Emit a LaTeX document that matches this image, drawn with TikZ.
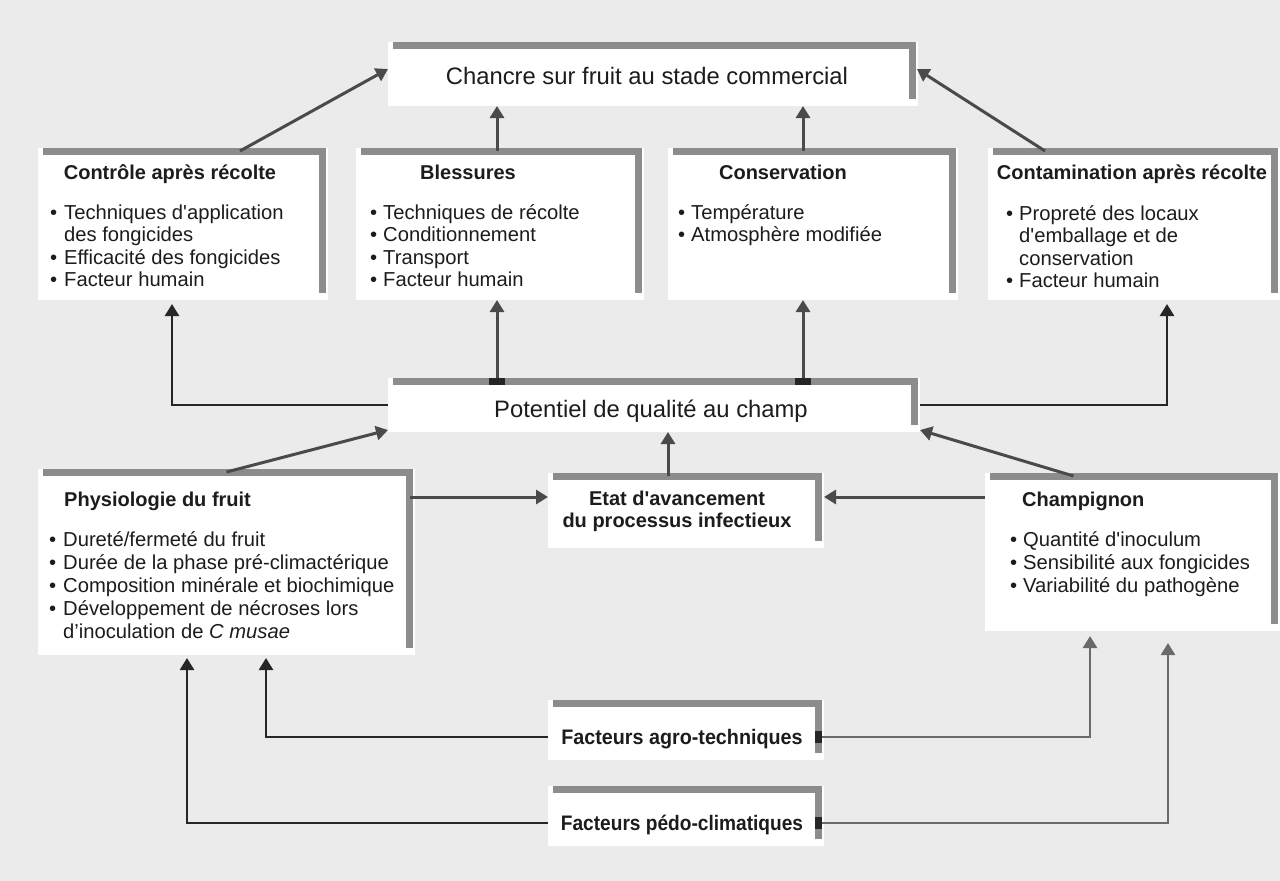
\documentclass[tikz,border=0pt]{standalone}
\usepackage{fontspec}
\setmainfont{Liberation Sans}
\newfontfamily\lsans{Liberation Sans}
\usetikzlibrary{arrows.meta}
\definecolor{bgc}{HTML}{EBEBEB}
\definecolor{barc}{HTML}{8C8C8C}
\definecolor{ink}{HTML}{1C1C1C}
\definecolor{arrowc}{HTML}{4A4A4A}
\definecolor{darkc}{HTML}{262626}
\definecolor{lightc}{HTML}{6A6A6A}
\tikzset{
  panel/.style={fill=white, draw=none, inner sep=0pt, outer sep=0pt, anchor=north west,
    path picture={\draw[barc, line width=6.5pt]
      ([xshift=5pt,yshift=-3.5pt]path picture bounding box.north west) --
      ([xshift=-5.5pt,yshift=-3.5pt]path picture bounding box.north east) --
      ([xshift=-5.5pt,yshift=7pt]path picture bounding box.south east);}},
  body/.style={font=\lsans\fontsize{20.2}{22}\selectfont, text=ink, inner sep=0pt, anchor=base west},
  ttl/.style={font=\lsans\bfseries\fontsize{20}{22}\selectfont, text=ink, inner sep=0pt, anchor=base},
  facttl/.style={font=\lsans\bfseries\fontsize{21}{23}\selectfont, text=ink, inner sep=0pt, anchor=base},
  bigtxt/.style={font=\lsans\fontsize{23.8}{26}\selectfont, text=ink, inner sep=0pt, anchor=base},
  upar/.style={draw=arrowc, line width=3pt, -{Triangle[width=14pt,length=12pt]}},
  linkar/.style={draw=darkc, line width=2.6pt, -{Triangle[width=14pt,length=12pt]}},
  lightar/.style={draw=lightc, line width=2.6pt, -{Triangle[width=14pt,length=12pt]}},
}
\begin{document}
\begin{tikzpicture}[x=1pt,y=-1pt]
\path[use as bounding box, fill=bgc] (0,0) rectangle (1280,881);

% boxes
\node[panel, minimum width=530pt, minimum height=64pt] (chancre) at (388,42) {};
\node[panel, minimum width=290pt, minimum height=152pt] (ctrl) at (38,148) {};
\node[panel, minimum width=288pt, minimum height=152pt] (bless) at (356,148) {};
\node[panel, minimum width=290pt, minimum height=152pt] (cons) at (668,148) {};
\node[panel, minimum width=292pt, minimum height=152pt] (contam) at (988,148) {};
\node[panel, minimum width=532pt, minimum height=54pt] (pot) at (388,378) {};
\node[panel, minimum width=377pt, minimum height=186pt] (phys) at (38,469) {};
\node[panel, minimum width=276pt, minimum height=75pt] (etat) at (548,473) {};
\node[panel, minimum width=295pt, minimum height=158pt] (champ) at (985,473) {};
\node[panel, minimum width=276pt, minimum height=60pt] (agro) at (548,700) {};
\node[panel, minimum width=276pt, minimum height=60pt] (pedo) at (548,786) {};

% main texts
\node[bigtxt] (tchancre) at (647,84.5) {Chancre sur fruit au stade commercial};
\node[bigtxt] (tpot) at (651,417.5) {Potentiel de qualité au champ};
\node[ttl] (tetat1) at (677,505) {Etat d'avancement};
\node[ttl] (tetat2) at (677,527) {du processus infectieux};
\node[facttl] (tagro) at (682,744.5) {\scalebox{0.94}[1]{Facteurs agro-techniques}};
\node[facttl] (tpedo) at (682,830.5) {\scalebox{0.91}[1]{Facteurs pédo-climatiques}};

% Controle
\node[ttl] (tctrl) at (170,179) {Contrôle après récolte};
\node[body] (c1) at (50,219) {•};
\node[body] (c1t) at (64,219) {Techniques d'application};
\node[body] (c2t) at (64,241.5) {des fongicides};
\node[body] (c3) at (50,264) {•};
\node[body] (c3t) at (64,264) {Efficacité des fongicides};
\node[body] (c4) at (50,286.5) {•};
\node[body] (c4t) at (64,286.5) {Facteur humain};

% Blessures
\node[ttl] (tbless) at (468,179) {Blessures};
\node[body] (b1) at (370,219) {•};
\node[body] (b1t) at (383,219) {Techniques de récolte};
\node[body] (b2) at (370,241.5) {•};
\node[body] (b2t) at (383,241.5) {Conditionnement};
\node[body] (b3) at (370,264) {•};
\node[body] (b3t) at (383,264) {Transport};
\node[body] (b4) at (370,286.5) {•};
\node[body] (b4t) at (383,286.5) {Facteur humain};

% Conservation
\node[ttl] (tcons) at (783,179) {Conservation};
\node[body] (s1) at (678,219) {•};
\node[body] (s1t) at (691,219) {Température};
\node[body] (s2) at (678,241.5) {•};
\node[body] (s2t) at (691,241.5) {Atmosphère modifiée};

% Contamination
\node[ttl] (tcontam) at (1132,179) {Contamination après récolte};
\node[body] (m1) at (1006,220) {•};
\node[body] (m1t) at (1019,220) {Propreté des locaux};
\node[body] (m2t) at (1019,242.5) {d'emballage et de};
\node[body] (m3t) at (1019,265) {conservation};
\node[body] (m4) at (1006,287.5) {•};
\node[body] (m4t) at (1019,287.5) {Facteur humain};

% Physiologie
\node[ttl, anchor=base west] (tphys) at (64,506) {Physiologie du fruit};
\node[body] (p1) at (49,546) {•};
\node[body] (p1t) at (63,546) {Dureté/fermeté du fruit};
\node[body] (p2) at (49,569) {•};
\node[body] (p2t) at (63,569) {Durée de la phase pré-climactérique};
\node[body] (p3) at (49,592) {•};
\node[body] (p3t) at (63,592) {Composition minérale et biochimique};
\node[body] (p4) at (49,615) {•};
\node[body] (p4t) at (63,615) {Développement de nécroses lors};
\node[body] (p5t) at (63,638) {d’inoculation de \textit{C musae}};

% Champignon
\node[ttl, anchor=base west] (tchamp) at (1022,506) {Champignon};
\node[body] (g1) at (1010,546) {•};
\node[body] (g1t) at (1023,546) {Quantité d'inoculum};
\node[body] (g2) at (1010,569) {•};
\node[body] (g2t) at (1023,569) {Sensibilité aux fongicides};
\node[body] (g3) at (1010,592) {•};
\node[body] (g3t) at (1023,592) {Variabilité du pathogène};

% helper coordinates
\coordinate (ya) at (0,497);
\coordinate (yagro) at (0,737);
\coordinate (ypedo) at (0,823);
\coordinate (xpa) at (266,0);
\coordinate (xpp) at (187,0);
\coordinate (xca) at (1090,0);
\coordinate (xcp) at (1168,0);

% arrows to Chancre
\draw[upar] ([xshift=57pt,yshift=-3pt]ctrl.north) -- ([yshift=5pt]chancre.west);
\draw[upar] ([xshift=-3pt,yshift=-3pt]bless.north) -- ([xshift=-3pt]bless.north |- chancre.south);
\draw[upar] ([xshift=-10pt,yshift=-3pt]cons.north) -- ([xshift=-10pt]cons.north |- chancre.south);
\draw[upar] ([xshift=-89pt,yshift=-3pt]contam.north) -- ([xshift=-1pt,yshift=5pt]chancre.east);

% from Potentiel
\draw[upar] ([xshift=-157pt,yshift=-3pt]pot.north) -- ([xshift=-157pt]pot.north |- bless.south);
\draw[upar] ([xshift=149pt,yshift=-3pt]pot.north) -- ([xshift=149pt]pot.north |- cons.south);
\fill[darkc] ([xshift=-165pt,yshift=0pt]pot.north) rectangle ([xshift=-149pt,yshift=-7pt]pot.north);
\fill[darkc] ([xshift=141pt,yshift=0pt]pot.north) rectangle ([xshift=157pt,yshift=-7pt]pot.north);
\draw[linkar] (pot.west) -| ([xshift=-11pt,yshift=-4pt]ctrl.south);
\draw[linkar] (pot.east) -| ([xshift=33pt,yshift=-4pt]contam.south);

% to Potentiel
\draw[upar] ([yshift=-3pt]phys.north) -- ([yshift=2pt]pot.south west);
\draw[upar] ([xshift=-18pt,yshift=-3pt]etat.north) -- ([xshift=-18pt]etat.north |- pot.south);
\draw[upar] ([xshift=-59pt,yshift=-3pt]champ.north) -- ([yshift=2pt]pot.south east);

% to Etat
\draw[upar] ([xshift=-5pt]phys.east |- ya) -- (etat.west |- ya);
\draw[upar] (champ.west |- ya) -- (etat.east |- ya);

% from bottom factors
\draw[linkar] (agro.west |- yagro) -| ([yshift=-3pt]phys.south -| xpa);
\draw[linkar] (pedo.west |- ypedo) -| ([yshift=-3pt]phys.south -| xpp);
\draw[lightar] ([xshift=-3pt]agro.east |- yagro) -| ([yshift=-5pt]champ.south -| xca);
\draw[lightar] ([xshift=-3pt]pedo.east |- ypedo) -| ([yshift=-12pt]champ.south -| xcp);
\fill[darkc] ([xshift=-9pt,yshift=-6pt]agro.east |- yagro) rectangle ([xshift=-2pt,yshift=6pt]agro.east |- yagro);
\fill[darkc] ([xshift=-9pt,yshift=-6pt]pedo.east |- ypedo) rectangle ([xshift=-2pt,yshift=6pt]pedo.east |- ypedo);
\end{tikzpicture}
\end{document}
